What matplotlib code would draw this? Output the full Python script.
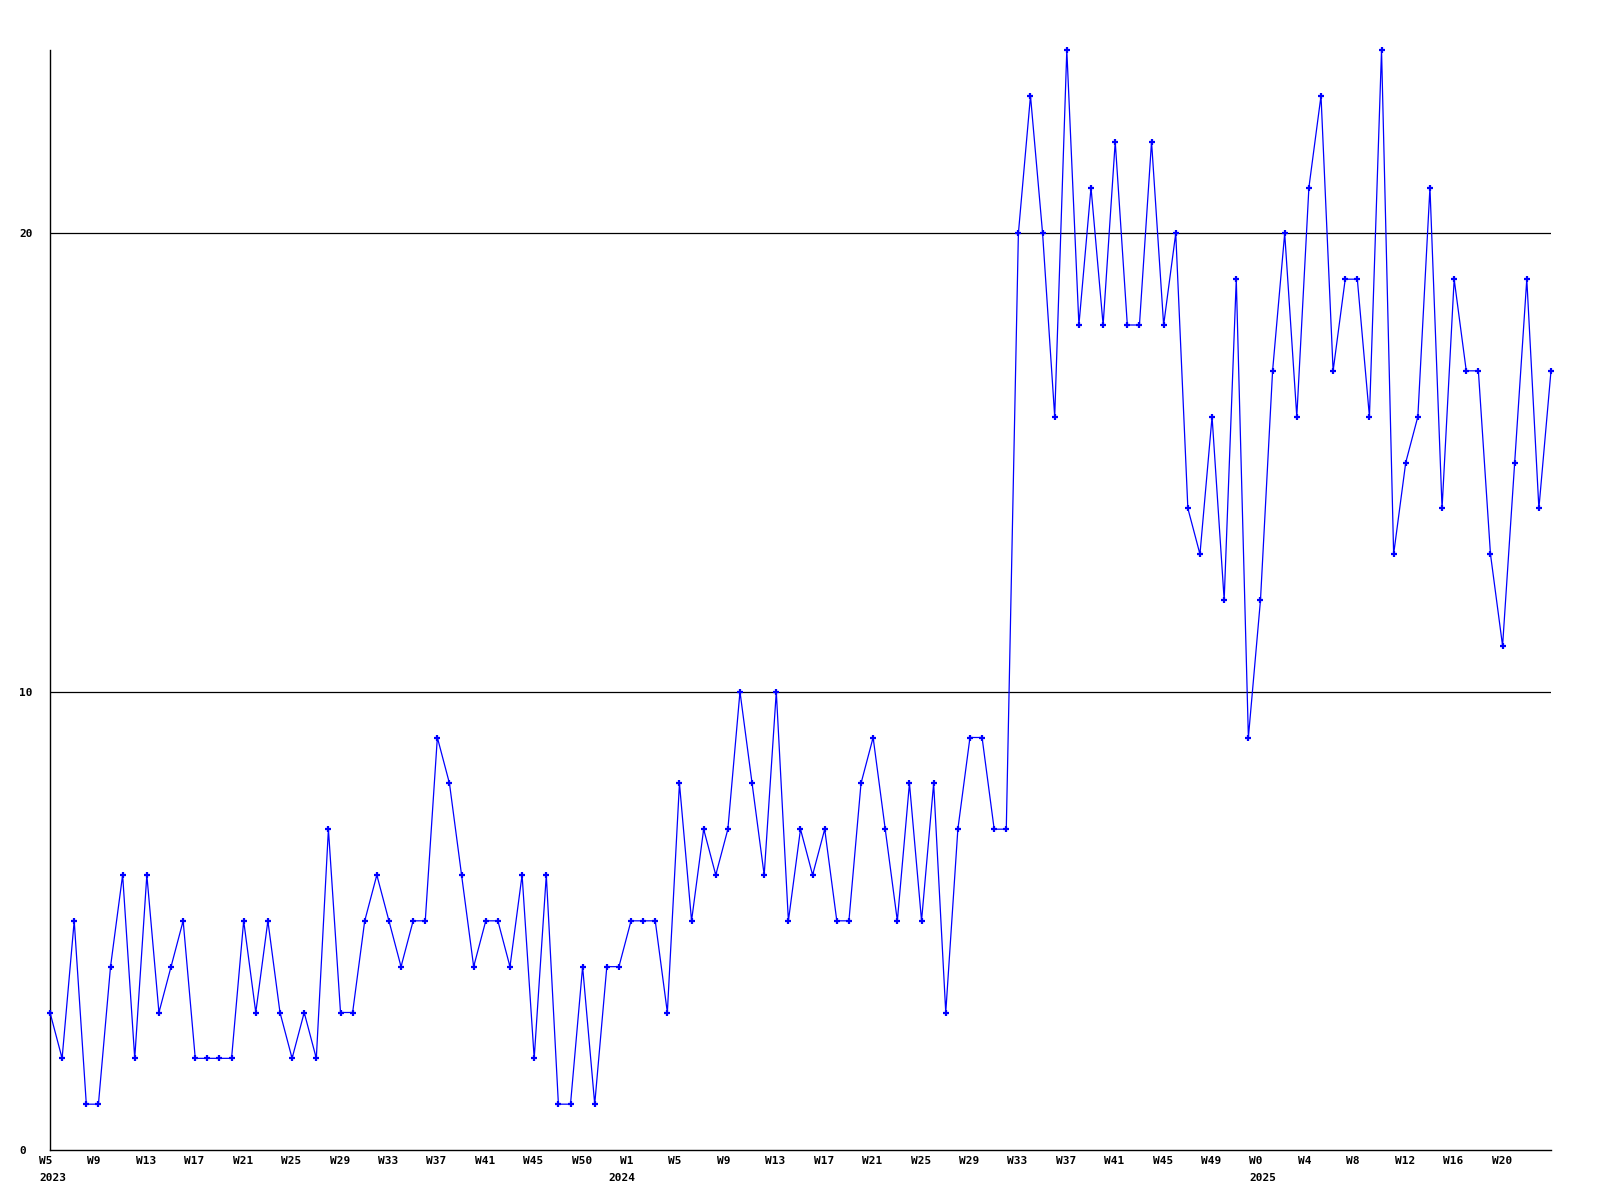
import matplotlib
matplotlib.use("Agg")
import matplotlib.pyplot as plt
import matplotlib.transforms as mtransforms

values = [3, 2, 5, 1, 1, 4, 6, 2, 6, 3, 4, 5, 2, 2, 2, 2, 5, 3, 5, 3,
          2, 3, 2, 7, 3, 3, 5, 6, 5, 4, 5, 5, 9, 8, 6, 4, 5, 5, 4, 6,
          2, 6, 1, 1, 4, 1, 4, 4, 5, 5, 5, 3, 8, 5, 7, 6, 7, 10, 8, 6,
          10, 5, 7, 6, 7, 5, 5, 8, 9, 7, 5, 8, 5, 8, 3, 7, 9, 9, 7, 7,
          20, 23, 20, 16, 24, 18, 21, 18, 22, 18, 18, 22, 18, 20, 14, 13, 16, 12, 19, 9,
          12, 17, 20, 16, 21, 23, 17, 19, 19, 16, 24, 13, 15, 16, 21, 14, 19, 17, 17, 13,
          11, 15, 19, 14, 17]

tick_labels = ["W5", "W9", "W13", "W17", "W21", "W25", "W29", "W33", "W37", "W41",
               "W45", "W50", "W1", "W5", "W9", "W13", "W17", "W21", "W25", "W29",
               "W33", "W37", "W41", "W45", "W49", "W0", "W4", "W8", "W12", "W16", "W20"]
tick_step = 4
year_labels = ["2023", "2024", "2025"]
year_index = [0, 47, 100]
y_ticks = [0, 10, 20]

fig = plt.figure(figsize=(16, 12), dpi=100)
ax = fig.add_axes([50/1600, 50/1200, 1501/1600, 1100/1200])

x = list(range(len(values)))
ax.plot(x, values, color="#0000ff", linewidth=0.9, marker="+", markersize=4,
        markeredgewidth=1.6, clip_on=False, zorder=3)

ax.set_xlim(0, len(values) - 1)
ax.set_ylim(0, 24)

for v in y_ticks[1:]:
    ax.axhline(v, color="black", linewidth=0.9, zorder=1)

for s in ["top", "right"]:
    ax.spines[s].set_visible(False)
for s in ["left", "bottom"]:
    ax.spines[s].set_linewidth(1.0)
    ax.spines[s].set_color("black")

font = dict(family="DejaVu Sans Mono", weight="bold", size=8)

ax.set_yticks(y_ticks)
ax.set_yticklabels([str(v) for v in y_ticks], **font)
ax.tick_params(axis="y", length=0, pad=22)
for lbl in ax.get_yticklabels():
    lbl.set_horizontalalignment("left")

xt = [i * tick_step for i in range(len(tick_labels))]
ax.set_xticks(xt)
ax.set_xticklabels(tick_labels, **font)
ax.tick_params(axis="x", length=0, pad=4)
offset = mtransforms.ScaledTranslation(-11/100, 0, fig.dpi_scale_trans)
for lbl in ax.get_xticklabels():
    lbl.set_horizontalalignment("left")
    lbl.set_transform(lbl.get_transform() + offset)

for lab, idx in zip(year_labels, year_index):
    ax.annotate(lab, xy=(idx, 0), xycoords=("data", "axes fraction"),
                xytext=(-11, -23), textcoords="offset pixels",
                ha="left", va="top", annotation_clip=False, **font)

fig.savefig("out.png", dpi=100, facecolor="white")
